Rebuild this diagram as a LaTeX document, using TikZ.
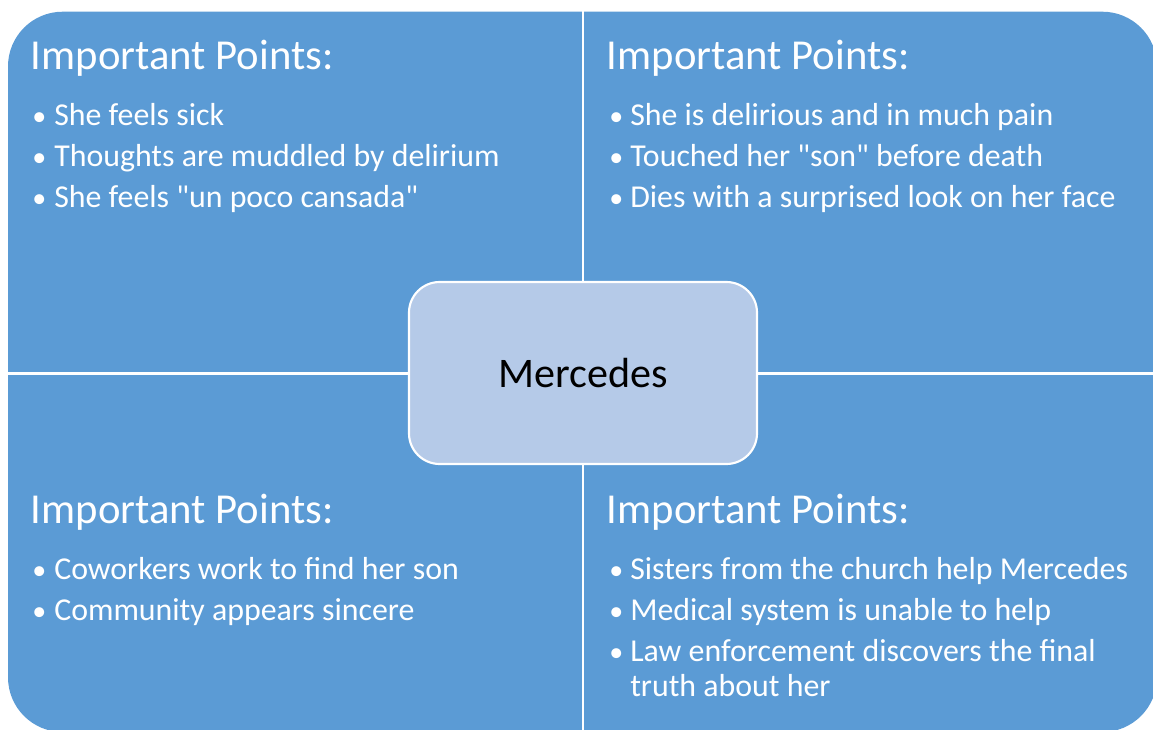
\documentclass[tikz,border=0pt]{standalone}
\usepackage{fontspec}
\setmainfont{Carlito}[Ligatures=TeXOff]
\definecolor{quadblue}{HTML}{5B9BD5}
\definecolor{hubblue}{HTML}{B5CAE8}
\begin{document}
\begin{tikzpicture}[x=0.75pt,y=-0.75pt,
  heading/.style={anchor=base west,inner sep=0pt,text=white,font=\fontsize{32}{36}\selectfont},
  point/.style={anchor=base west,inner sep=0pt,text=white,font=\fontsize{23.9}{28}\selectfont},
  dot/.style={anchor=base west,inner sep=0pt,text=white,font=\fontsize{21}{28}\selectfont},
  hub/.style={draw=white,line width=1.6pt,fill=hubblue,rounded corners=23pt,minimum width=261pt,minimum height=136.5pt,inner sep=0pt,font=\fontsize{31.6}{38}\selectfont,text=black}]
\useasboundingbox (0,0) rectangle (1153,729);
% four quadrants as one rounded block split by white gaps
\fill[quadblue,rounded corners=41pt] (8,11.7) rectangle (1157,732);
\draw[white,line width=1.9pt] (583,0) -- (583,740);
\draw[white,line width=1.9pt] (0,373.3) -- (1160,373.3);
% central hub
\node[hub] (hub) at (583,373) {Mercedes};
% top left
\node[heading] (h1) at (30.5,69.5) {Important Points:};
\node[dot] (d11) at (32,125) {•}; \node[point] (p11) at (54,125) {She feels sick};
\node[dot] (d12) at (32,166) {•}; \node[point] (p12) at (54,166) {Thoughts are muddled by delirium};
\node[dot] (d13) at (32,207) {•}; \node[point] (p13) at (54,207) {She feels "un poco cansada"};
% top right
\node[heading] (h2) at (606.5,69.5) {Important Points:};
\node[dot] (d21) at (609,125) {•}; \node[point] (p21) at (630,125) {She is delirious and in much pain};
\node[dot] (d22) at (609,166) {•}; \node[point] (p22) at (630,166) {Touched her "son" before death};
\node[dot] (d23) at (609,207) {•}; \node[point] (p23) at (630,207) {Dies with a surprised look on her face};
% bottom left
\node[heading] (h3) at (30.5,523.5) {Important Points:};
\node[dot] (d31) at (32,579.5) {•}; \node[point] (p31) at (54,579.5) {Coworkers work to find her son};
\node[dot] (d32) at (32,620.5) {•}; \node[point] (p32) at (54,620.5) {Community appears sincere};
% bottom right
\node[heading] (h4) at (606.5,523.5) {Important Points:};
\node[dot] (d41) at (609,579.5) {•}; \node[point] (p41) at (630,579.5) {Sisters from the church help Mercedes};
\node[dot] (d42) at (609,620.5) {•}; \node[point] (p42) at (630,620.5) {Medical system is unable to help};
\node[dot] (d43) at (609,661.5) {•}; \node[point] (p43) at (630,661.5) {Law enforcement discovers the final};
\node[point] (p44) at (630,696.5) {truth about her};
\end{tikzpicture}
\end{document}
